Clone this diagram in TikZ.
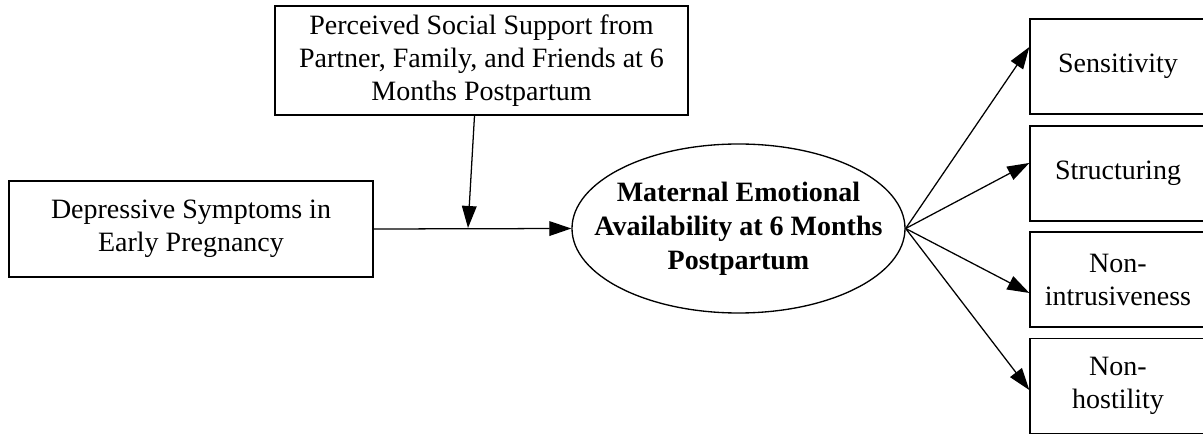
\documentclass[tikz,border=0pt]{standalone}
\usepackage{fontspec}
\setmainfont{Liberation Serif}
\usetikzlibrary{arrows.meta,shapes.geometric}
\tikzset{
  px/.style={x=0.75pt,y=-0.75pt},
  txt/.style={font=\fontsize{21pt}{24.75pt}\selectfont, align=center, inner sep=0pt},
  box/.style={txt, draw, line width=1pt, rectangle},
  latent/.style={draw, line width=1pt, ellipse, inner sep=0pt},
  latenttxt/.style={txt, font=\fontsize{21pt}{25.5pt}\selectfont\bfseries},
  arr/.style={line width=0.95pt, -{Triangle[length=16.5pt,width=11pt]}}
}
\begin{document}
\begin{tikzpicture}[px]
\useasboundingbox (0,0) rectangle (1203,434);
\node[box, minimum width=273pt, minimum height=72pt] (dep) at (191,229)
  {Depressive Symptoms in\\Early Pregnancy};
\node[box, minimum width=309.75pt, minimum height=81.75pt] (soc) at (481.5,60.5)
  {Perceived Social Support from\\Partner, Family, and Friends at 6\\Months Postpartum};
\node[latent, minimum width=249.75pt, minimum height=126.75pt] (ell) at (738.5,228.5) {};
\node[latenttxt] (elltxt) at (ell.center)
  {Maternal Emotional\\Availability at 6 Months\\Postpartum};
\node[box, minimum width=132pt, minimum height=71.25pt] (sen) at (1118,66.5) {Sensitivity};
\node[box, minimum width=132pt, minimum height=71.25pt] (str) at (1118,173.5) {Structuring};
\node[box, minimum width=132pt, minimum height=71.25pt] (nin) at (1118,279.5) {Non-\\intrusiveness};
\node[box, minimum width=132pt, minimum height=71.25pt] (nho) at (1118,386) {Non-\\hostility};
\coordinate (m) at (468,228);
\draw[arr] (dep.east) -- (ell.west);
\draw[arr] ([xshift=-5.25pt]soc.south) -- (m);
\draw[arr] (ell.east) -- ([yshift=14.6pt]sen.west);
\draw[arr] (ell.east) -- ([yshift=7.9pt]str.west);
\draw[arr] (ell.east) -- ([yshift=-10.1pt]nin.west);
\draw[arr] (ell.east) -- ([yshift=-3pt]nho.west);
\end{tikzpicture}
\end{document}
